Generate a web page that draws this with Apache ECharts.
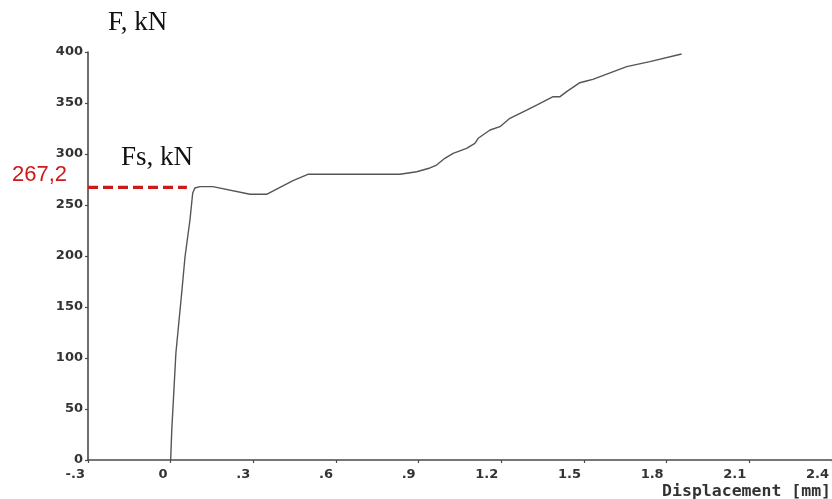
<!DOCTYPE html>
<html>
<head>
<meta charset="utf-8">
<script src="https://cdn.jsdelivr.net/npm/echarts@6/dist/echarts.min.js"></script>
<style>html,body{margin:0;padding:0;background:#fff;}#c{width:832px;height:499px;}</style>
</head>
<body>
<div id="c"></div>
<script>
// Displacement [mm]
var displacement = [0, 0.004, 0.019, 0.040, 0.052, 0.070, 0.080, 0.088, 0.106, 0.153, 0.288, 0.348, 0.444, 0.498, 0.832, 0.893, 0.941, 0.965, 0.995, 1.025, 1.074, 1.104, 1.116, 1.159, 1.195, 1.231, 1.292, 1.328, 1.388, 1.413, 1.437, 1.485, 1.509, 1.532, 1.655, 1.739, 1.854];
// Force F [kN]
var force = [0, 29.4, 104.9, 163.7, 199, 235.3, 261.8, 266.7, 268, 268, 260.5, 260.5, 273.8, 280.1, 280.1, 282.6, 286.3, 289.2, 295.8, 300.7, 305.6, 310.5, 315.4, 323.5, 326.8, 335, 343.1, 348, 356.2, 356.2, 361.1, 369.9, 371.6, 373.2, 385.6, 390.5, 398];
// Yield force marker
var fsValue = 267.2;
var fsLineX = [-0.3, 0.059];
var fsLabel = '267,2';
// Tick labels
var xTickLabels = ['-.3', '0', '.3', '.6', '.9', '1.2', '1.5', '1.8', '2.1', '2.4'];
var yTickLabels = ['0', '50', '100', '150', '200', '250', '300', '350', '400'];
var yTitle = 'F, kN';
var fsTitle = 'Fs, kN';
var xTitle = 'Displacement [mm]';

var curve = displacement.map(function (x, i) { return [x, force[i]]; });
var fsLine = fsLineX.map(function (x) { return [x, fsValue]; });

var chart = echarts.init(document.getElementById('c'), null, {renderer: 'canvas'});
var axisCol = '#4a4a4a';
chart.setOption({
  animation: false,
  backgroundColor: '#fff',
  grid: {left: 88, right: 0, top: 52, bottom: 39, containLabel: false},
  xAxis: {
    type: 'value', min: -0.3, max: 2.4, interval: 0.3,
    axisLine: {show: true, onZero: false, lineStyle: {color: axisCol, width: 1.6}},
    axisTick: {show: true, length: 3, lineStyle: {color: axisCol, width: 1.2}},
    splitLine: {show: false},
    axisLabel: {
      show: true, margin: 8, align: 'right', padding: [0, 3, 0, 0],
      fontFamily: 'DejaVu Sans', fontWeight: 'bold', fontSize: 13, color: '#333',
      showMinLabel: true, showMaxLabel: true,
      formatter: function (v) { var i = Math.round((v + 0.3) / 0.3); return xTickLabels[i] || ''; }
    }
  },
  yAxis: {
    type: 'value', min: 0, max: 400, interval: 50,
    axisLine: {show: true, onZero: false, lineStyle: {color: axisCol, width: 1.6}},
    axisTick: {show: true, length: 3, lineStyle: {color: axisCol, width: 1.2}},
    splitLine: {show: false},
    axisLabel: {
      show: true, margin: 5, verticalAlign: 'middle', padding: [0, 0, 9, 0],
      fontFamily: 'DejaVu Sans', fontWeight: 'bold', fontSize: 13, color: '#333',
      formatter: function (v) { var i = Math.round(v / 50); return yTickLabels[i] || ''; }
    }
  },
  series: [
    {
      type: 'line', data: curve, showSymbol: false, smooth: false,
      lineStyle: {color: '#555', width: 1.4}, z: 3
    },
    {
      type: 'line', data: fsLine, showSymbol: false,
      lineStyle: {color: '#cc1a1a', width: 3.2, type: [10, 5]}, z: 4
    }
  ],
  graphic: [
    {type: 'text', x: 108, y: 23, style: {text: yTitle, font: '27px "Liberation Serif"', fill: '#111', textVerticalAlign: 'middle', textAlign: 'left'}},
    {type: 'text', x: 121, y: 158, style: {text: fsTitle, font: '27px "Liberation Serif"', fill: '#111', textVerticalAlign: 'middle', textAlign: 'left'}},
    {type: 'text', x: 12, y: 175, style: {text: fsLabel, font: '22px "Liberation Sans"', fill: '#cc1a1a', textVerticalAlign: 'middle', textAlign: 'left'}},
    {type: 'text', x: 831, y: 492, style: {text: xTitle, font: 'bold 16.5px "DejaVu Sans Mono"', fill: '#333', textVerticalAlign: 'middle', textAlign: 'right'}}
  ]
});
</script>
</body>
</html>
